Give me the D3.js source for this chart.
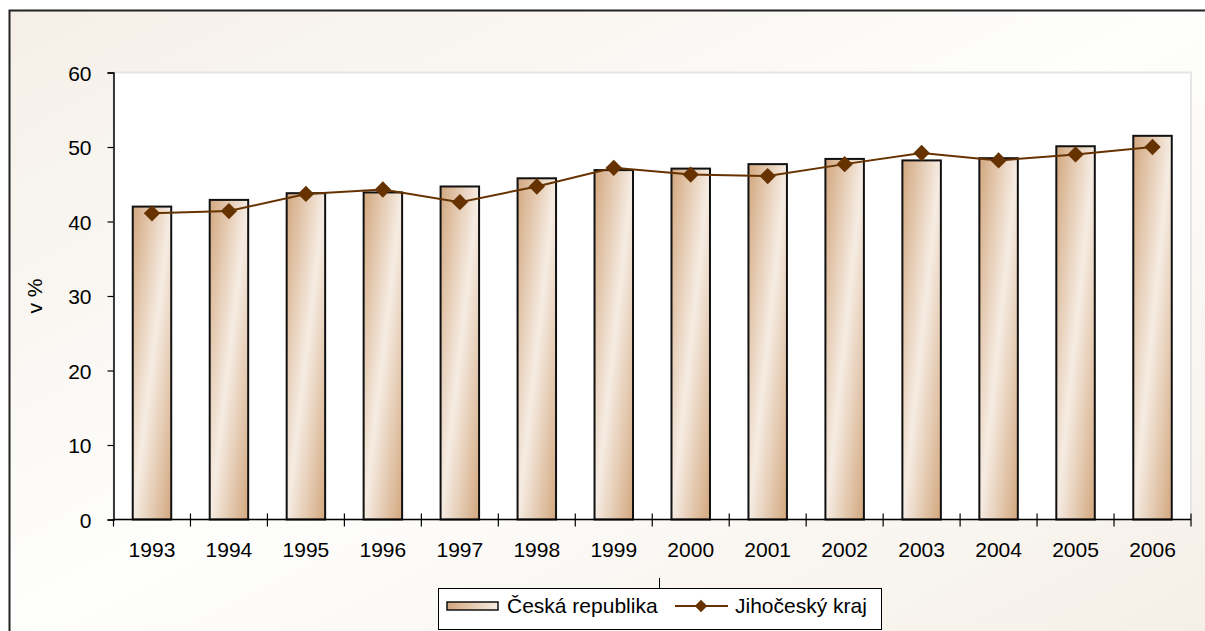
<!DOCTYPE html>
<html>
<head>
<meta charset="utf-8">
<script src="https://cdn.jsdelivr.net/npm/d3@7"></script>
<style>
  body { margin: 0; background: #fff; }
  svg { display: block; font-family: 'Liberation Sans', Arial, sans-serif; }
</style>
</head>
<body>
<script>
var years = ['1993', '1994', '1995', '1996', '1997', '1998', '1999',
             '2000', '2001', '2002', '2003', '2004', '2005', '2006'];
var ceskaRepublika = [42.0, 42.9, 43.8, 43.9, 44.7, 45.8, 46.9, 47.1, 47.7, 48.4, 48.2, 48.5, 50.1, 51.5];
var jihoceskyKraj = [41.1, 41.4, 43.7, 44.3, 42.6, 44.7, 47.2, 46.3, 46.1, 47.7, 49.2, 48.2, 49.0, 50.0];
var yTicks = [0, 10, 20, 30, 40, 50, 60];
var seriesNames = ['Česká republika', 'Jihočeský kraj'];

var width = 1205, height = 631;
var plot = {left: 113.5, top: 72.5, right: 1191, bottom: 519.5};

var svg = d3.select('body').append('svg')
  .attr('width', width)
  .attr('height', height);

var defs = svg.append('defs');

// diagonal gradient: beige corners, light middle (used for frame and bars)
var bg = defs.append('linearGradient')
  .attr('id', 'bgGrad')
  .attr('x1', 0).attr('y1', 0).attr('x2', 1).attr('y2', 1);
bg.append('stop').attr('offset', 0).attr('stop-color', '#F5EFE7');
bg.append('stop').attr('offset', 0.5).attr('stop-color', '#FEFEFD');
bg.append('stop').attr('offset', 1).attr('stop-color', '#F5EFE7');

var barGrad = defs.append('linearGradient')
  .attr('id', 'barGrad')
  .attr('x1', 0).attr('y1', 0).attr('x2', 1).attr('y2', 1);
barGrad.append('stop').attr('offset', 0).attr('stop-color', '#D2A77E');
barGrad.append('stop').attr('offset', 0.5).attr('stop-color', '#F6ECE3');
barGrad.append('stop').attr('offset', 1).attr('stop-color', '#D2A77E');

var legGrad = defs.append('linearGradient')
  .attr('id', 'legGrad')
  .attr('x1', 0).attr('y1', 0).attr('x2', 1).attr('y2', 0);
legGrad.append('stop').attr('offset', 0).attr('stop-color', '#D2A77E');
legGrad.append('stop').attr('offset', 1).attr('stop-color', '#F6ECE3');

// outer frame: fill to the window edge, border only on top and left
svg.append('rect')
  .attr('x', 9).attr('y', 10)
  .attr('width', width - 9).attr('height', height - 10)
  .attr('fill', 'url(#bgGrad)');

svg.append('path')
  .attr('d', 'M9.5,' + height + 'V10.5H' + width)
  .attr('fill', 'none')
  .attr('stroke', '#222')
  .attr('stroke-width', 2);

// plot area
svg.append('rect')
  .attr('x', plot.left).attr('y', plot.top)
  .attr('width', plot.right - plot.left)
  .attr('height', plot.bottom - plot.top)
  .attr('fill', '#fff')
  .attr('stroke', '#E6E6E6')
  .attr('stroke-width', 2);

var x = d3.scaleBand()
  .domain(years)
  .range([plot.left, plot.right])
  .paddingInner(0.5)
  .paddingOuter(0.25);

var y = d3.scaleLinear()
  .domain([0, 60])
  .range([plot.bottom, plot.top]);

// bars
svg.selectAll('.bar')
  .data(ceskaRepublika)
  .enter()
  .append('rect')
  .attr('class', 'bar')
  .attr('x', function(d, i) { return x(years[i]); })
  .attr('y', function(d) { return y(d); })
  .attr('width', x.bandwidth())
  .attr('height', function(d) { return y(0) - y(d); })
  .attr('fill', 'url(#barGrad)')
  .attr('stroke', '#111')
  .attr('stroke-width', 2);

// y axis
var yAxis = d3.axisLeft(y)
  .tickValues(yTicks)
  .tickSize(6)
  .tickPadding(16);

var gy = svg.append('g')
  .attr('transform', 'translate(' + plot.left + ',0)')
  .call(yAxis);
gy.select('.domain').attr('stroke', '#000').attr('stroke-width', 1.5);
gy.selectAll('.tick line').attr('stroke', '#000').attr('stroke-width', 1.2);
gy.selectAll('.tick text')
  .style('font-size', '21px')
  .attr('fill', '#000')
  .attr('dy', '0.36em');

// x axis: baseline plus crossing ticks between categories
var step = x.step();
var edges = years.map(function(d) { return x(d) + x.bandwidth() / 2 + step / 2; });

svg.append('line')
  .attr('x1', plot.left).attr('x2', plot.right)
  .attr('y1', y(0)).attr('y2', y(0))
  .attr('stroke', '#000')
  .attr('stroke-width', 1.5);

svg.selectAll('.xtick')
  .data(edges)
  .enter()
  .append('line')
  .attr('class', 'xtick')
  .attr('x1', function(d) { return d; })
  .attr('x2', function(d) { return d; })
  .attr('y1', y(0) - 6)
  .attr('y2', y(0) + 7)
  .attr('stroke', '#000')
  .attr('stroke-width', 1.2);

svg.append('line')
  .attr('x1', plot.left).attr('x2', plot.left)
  .attr('y1', y(0)).attr('y2', y(0) + 7)
  .attr('stroke', '#000')
  .attr('stroke-width', 1.2);

svg.selectAll('.xlabel')
  .data(years)
  .enter()
  .append('text')
  .attr('class', 'xlabel')
  .attr('x', function(d) { return x(d) + x.bandwidth() / 2; })
  .attr('y', 557)
  .attr('text-anchor', 'middle')
  .style('font-size', '21px')
  .text(function(d) { return d; });

// y axis title
svg.append('text')
  .attr('transform', 'translate(42,' + ((plot.top + plot.bottom) / 2) + ') rotate(-90)')
  .attr('text-anchor', 'middle')
  .style('font-size', '21px')
  .text('v %');

// line series
var line = d3.line()
  .x(function(d, i) { return x(years[i]) + x.bandwidth() / 2; })
  .y(function(d) { return y(d); });

svg.append('path')
  .datum(jihoceskyKraj)
  .attr('d', line)
  .attr('fill', 'none')
  .attr('stroke', '#663300')
  .attr('stroke-width', 2);

var diamond = d3.symbol().type(d3.symbolDiamond2).size(170);

svg.selectAll('.marker')
  .data(jihoceskyKraj)
  .enter()
  .append('path')
  .attr('class', 'marker')
  .attr('d', diamond)
  .attr('transform', function(d, i) {
    return 'translate(' + (x(years[i]) + x.bandwidth() / 2) + ',' + y(d) + ')';
  })
  .attr('fill', '#663300');

// small mark above legend
svg.append('line')
  .attr('x1', 659.5).attr('x2', 659.5)
  .attr('y1', 578).attr('y2', 588)
  .attr('stroke', '#000')
  .attr('stroke-width', 1);

// legend
var legend = svg.append('g');
legend.append('rect')
  .attr('x', 438.5).attr('y', 588.5)
  .attr('width', 443).attr('height', 41)
  .attr('fill', '#fff')
  .attr('stroke', '#000')
  .attr('stroke-width', 1);

legend.append('rect')
  .attr('x', 447).attr('y', 602)
  .attr('width', 51).attr('height', 8)
  .attr('fill', 'url(#legGrad)')
  .attr('stroke', '#111')
  .attr('stroke-width', 1.5);

legend.append('text')
  .attr('x', 507).attr('y', 613)
  .style('font-size', '21px')
  .text(seriesNames[0]);

legend.append('line')
  .attr('x1', 675).attr('x2', 728)
  .attr('y1', 606).attr('y2', 606)
  .attr('stroke', '#663300')
  .attr('stroke-width', 2);

legend.append('path')
  .attr('d', d3.symbol().type(d3.symbolDiamond2).size(100))
  .attr('transform', 'translate(701,606)')
  .attr('fill', '#663300');

legend.append('text')
  .attr('x', 735).attr('y', 613)
  .style('font-size', '21px')
  .text(seriesNames[1]);
</script>
</body>
</html>
